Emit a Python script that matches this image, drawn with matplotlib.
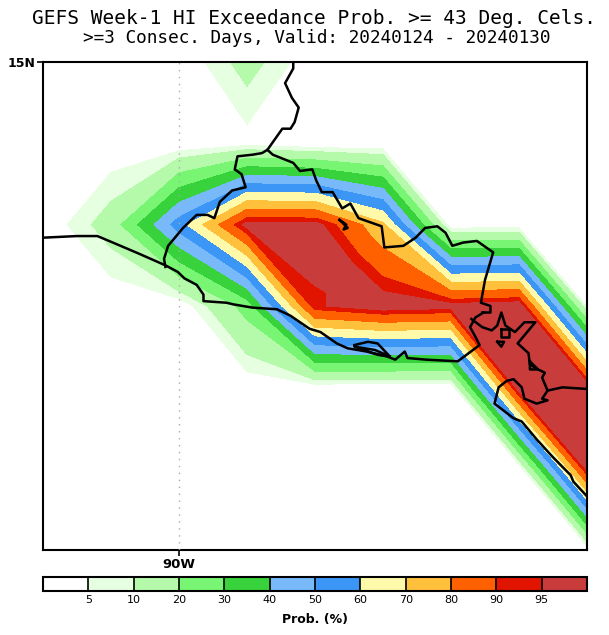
import matplotlib
matplotlib.use("Agg")
import matplotlib.pyplot as plt
from matplotlib.colors import ListedColormap, BoundaryNorm
from matplotlib.tri import Triangulation
import numpy as np

W, H = 609, 635

title_line1 = "GEFS Week-1 HI Exceedance Prob. >= 43 Deg. Cels."
title_line2 = ">=3 Consec. Days, Valid: 20240124 - 20240130"
cbar_label = "Prob. (%)"

lons = [-91.0, -90.5, -90.0, -89.5, -89.0, -88.5, -88.0, -87.5, -87.0]
lats = [15.0, 14.5, 14.0, 13.5, 13.0, 12.5, 12.0]

prob_15_0 = [0, 0, 0, 13.2, 0.5, 0, 0, 0, 0]
prob_14_5 = [0, 0, 0, 2.5, 0, 0, 0, 0, 0]
prob_14_0 = [0, 14, 55, 98, 98, 72, 1, 1, 0]
prob_13_5 = [0, 0, 0, 24, 94, 100, 98, 100, 4]
prob_13_0 = [0, 0, 0, 0.5, 1.5, 0, 0, 100, 100]
prob_12_5 = [0, 0, 0, 0, 0, 0, 0, 0, 97]
prob_12_0 = [0, 0, 0, 0, 0, 0, 0, 0, 0]

# The saddle cell between 13.5-14N and 89-88.5W, where the >=95 area is joined
saddle_lon_index = 4
saddle_lat_index = 2
saddle_centre_prob = 97

levels = [0, 5, 10, 20, 30, 40, 50, 60, 70, 80, 90, 95, 100.01]
tick_levels = [5, 10, 20, 30, 40, 50, 60, 70, 80, 90, 95]
colors = ["#FFFFFF", "#E6FFE1", "#B4FAAA", "#78F573", "#37D23C", "#78B9FA",
          "#3C96F5", "#FFFAAA", "#FFC03C", "#FF6000", "#E11400", "#C83C3C"]

coast_south_lon = [-91.00, -90.75, -90.60, -90.43, -90.29, -90.10, -90.01, -89.96, -89.87, -89.82, -89.82,
                   -89.65, -89.60, -89.46, -89.28, -89.18, -89.04, -88.96, -88.84, -88.76, -88.62, -88.47,
                   -88.41, -88.34, -88.32, -88.18, -87.95, -87.79, -87.82, -87.86, -87.82, -87.76]
coast_south_lat = [13.92, 13.93, 13.93, 13.87, 13.82, 13.75, 13.71, 13.67, 13.63, 13.57, 13.53,
                   13.52, 13.51, 13.49, 13.48, 13.44, 13.36, 13.34, 13.27, 13.24, 13.22, 13.19,
                   13.17, 13.22, 13.18, 13.17, 13.16, 13.26, 13.31, 13.37, 13.43, 13.46]

coast_gulf_lon = [-87.85, -87.77, -87.70, -87.66, -87.63, -87.60, -87.53, -87.46, -87.38, -87.51, -87.43,
                  -87.42, -87.36, -87.31, -87.33, -87.29, -87.33, -87.29, -87.37, -87.46, -87.48, -87.54,
                  -87.59, -87.65, -87.68, -87.54, -87.48, -87.37, -87.25, -87.12, -87.10, -87.00]
coast_gulf_lat = [13.42, 13.37, 13.35, 13.38, 13.46, 13.38, 13.34, 13.40, 13.40, 13.27, 13.21,
                  13.14, 13.11, 13.09, 13.06, 12.98, 12.93, 12.92, 12.90, 12.93, 13.00, 13.05,
                  13.04, 13.00, 12.90, 12.81, 12.79, 12.68, 12.57, 12.46, 12.42, 12.33]

border_east_lon = [-87.29, -87.18, -87.00]
border_east_lat = [12.98, 13.00, 12.99]

border_west_lon = [-89.16, -89.16, -89.22, -89.17, -89.12, -89.15, -89.18, -89.24, -89.35, -89.39, -89.46, -89.57,
                   -89.59, -89.54, -89.51, -89.61, -89.70, -89.74, -89.79, -89.87, -89.97, -90.08, -90.11, -90.10]
border_west_lat = [15.00, 14.96, 14.87, 14.78, 14.72, 14.63, 14.59, 14.59, 14.46, 14.44, 14.43, 14.42,
                   14.34, 14.31, 14.23, 14.21, 14.14, 14.04, 14.06, 14.06, 13.98, 13.87, 13.79, 13.74]

border_north_lon = [-89.35, -89.31, -89.16, -89.11, -89.02, -88.99, -88.95, -88.87, -88.80, -88.74, -88.68, -88.51,
                    -88.49, -88.35, -88.26, -88.19, -88.10, -88.04, -87.99, -87.91, -87.81, -87.69, -87.75, -87.78,
                    -87.71, -87.71, -87.77]
border_north_lat = [14.46, 14.43, 14.38, 14.33, 14.34, 14.27, 14.20, 14.20, 14.10, 14.13, 14.04, 13.99,
                    13.86, 13.87, 13.92, 13.98, 13.99, 13.95, 13.87, 13.89, 13.90, 13.83, 13.66, 13.52,
                    13.50, 13.46, 13.46]

island_a_lon = [-87.63, -87.57, -87.57, -87.63, -87.63]
island_a_lat = [13.36, 13.36, 13.31, 13.31, 13.36]
island_b_lon = [-87.66, -87.61, -87.63, -87.66]
island_b_lat = [13.28, 13.28, 13.25, 13.28]
island_c_lon = [-87.42, -87.36, -87.42, -87.42]
island_c_lat = [13.16, 13.11, 13.11, 13.16]
lake_lon = [-88.82, -88.76, -88.79, -88.77, -88.82]
lake_lat = [14.03, 13.98, 13.97, 14.00, 14.03]
estuary_lon = [-88.71, -88.61, -88.54, -88.45, -88.56, -88.71, -88.54, -88.45]
estuary_lat = [13.26, 13.28, 13.27, 13.19, 13.23, 13.25, 13.20, 13.19]

coast_lines = [(coast_south_lon, coast_south_lat), (coast_gulf_lon, coast_gulf_lat),
               (border_east_lon, border_east_lat), (border_west_lon, border_west_lat),
               (border_north_lon, border_north_lat), (island_a_lon, island_a_lat),
               (island_b_lon, island_b_lat), (island_c_lon, island_c_lat),
               (lake_lon, lake_lat), (estuary_lon, estuary_lat)]

fig = plt.figure(figsize=(W / 100, H / 100), dpi=100)
ax = fig.add_axes([43 / W, 1 - 550 / H, 544 / W, 488 / H])

field = np.array([prob_15_0, prob_14_5, prob_14_0, prob_13_5, prob_13_0, prob_12_5, prob_12_0], dtype=float)

cmap = ListedColormap(colors)
norm = BoundaryNorm(levels, cmap.N)
cf = ax.contourf(lons, lats, field, levels=levels, cmap=cmap, norm=norm, antialiased=False, zorder=1)

# Redraw the saddle cell alone, split around its centre value
i, j = saddle_lon_index, saddle_lat_index
cell_x = [lons[i], lons[i + 1], lons[i + 1], lons[i], (lons[i] + lons[i + 1]) / 2]
cell_y = [lats[j], lats[j], lats[j + 1], lats[j + 1], (lats[j] + lats[j + 1]) / 2]
cell_z = [field[j, i], field[j, i + 1], field[j + 1, i + 1], field[j + 1, i], saddle_centre_prob]
cell_tri = Triangulation(cell_x, cell_y, [[0, 1, 4], [1, 2, 4], [2, 3, 4], [3, 0, 4]])
ax.tricontourf(cell_tri, cell_z, levels=levels, cmap=cmap, norm=norm, antialiased=False, zorder=2)

ax.axvline(-90, color="#aaaaaa", lw=1, ls=(0, (1, 4)), zorder=3)
for lon, lat in coast_lines:
    ax.plot(lon, lat, color="black", lw=1.8, solid_joinstyle="round", zorder=4)

ax.set_xlim(-91, -87)
ax.set_ylim(12, 15)
ax.set_xticks([-90])
ax.set_xticklabels(["90W"], fontsize=9.5, fontweight="bold")
ax.set_yticks([15])
ax.set_yticklabels(["15N"], fontsize=9, fontweight="bold")
ax.tick_params(length=4, width=1.2, pad=1.5)
for s in ax.spines.values():
    s.set_linewidth(1.5)

cax = fig.add_axes([43 / W, 1 - 591 / H, 544 / W, 14 / H])
cb = fig.colorbar(cf, cax=cax, orientation="horizontal", spacing="uniform",
                  ticks=tick_levels, drawedges=True)
cb.outline.set_linewidth(1.5)
cb.dividers.set_linewidth(1.2)
cb.dividers.set_color("black")
cax.minorticks_off()
cax.tick_params(length=0, pad=3, labelsize=8)
cax.set_xticklabels([str(t) for t in tick_levels])

fig.text(314 / W, 1 - 18 / H, title_line1, ha="center", va="center", fontsize=14, family="DejaVu Sans Mono")
fig.text(317 / W, 1 - 38 / H, title_line2, ha="center", va="center", fontsize=12.8, family="DejaVu Sans Mono")
fig.text(315 / W, 1 - 619 / H, cbar_label, ha="center", va="center", fontsize=9, fontweight="bold")

fig.savefig("out.png", dpi=100)
